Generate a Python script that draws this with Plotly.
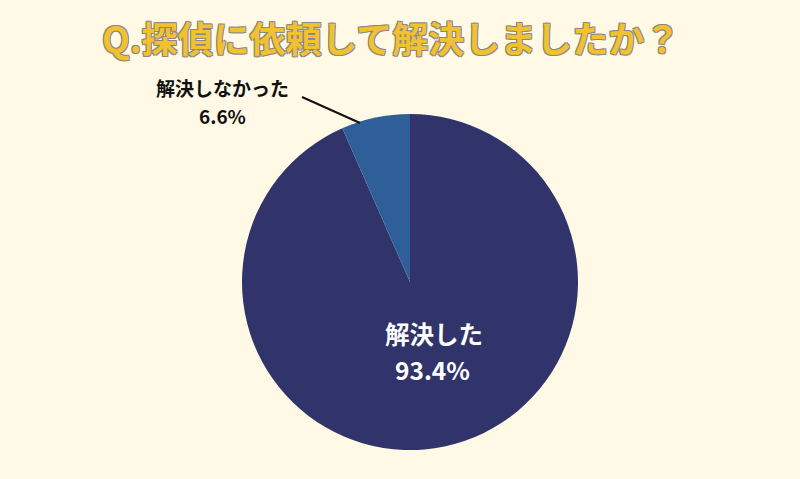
import plotly.graph_objects as go

labels = ["解決した", "解決しなかった"]
values = [93.4, 6.6]
colors = ["#30346A", "#2E5F99"]
title_text = "Q.探偵に依頼して解決しましたか？"

FONT = "Noto Sans CJK JP"

fig = go.Figure()
fig.add_trace(go.Pie(
    labels=labels,
    values=values,
    sort=False,
    direction="clockwise",
    rotation=0,
    marker=dict(colors=colors, line=dict(width=0)),
    textinfo="none",
    hoverinfo="skip",
    showlegend=False,
    domain=dict(x=[0.3025, 0.7225], y=[0.0605, 0.7620]),
))

def label(text, px, py, size, color):
    fig.add_annotation(text=text, x=px / 800, y=1 - py / 479, xref="paper", yref="paper",
                       xanchor="center", yanchor="middle", showarrow=False,
                       font=dict(family=FONT, size=size, color=color, weight="bold"))

# inside label for the large slice
label(labels[0], 434, 333, 24.5, "white")
label(f"{values[0]}%", 432, 369, 24.5, "white")

# outside label for the small slice
label(labels[1], 222, 88, 19, "#111111")
label(f"{values[1]}%", 222, 115.5, 19, "#111111")
fig.add_shape(type="line", xref="paper", yref="paper",
              x0=302 / 800, y0=1 - 97 / 479, x1=360 / 800, y1=1 - 123 / 479,
              line=dict(color="#111111", width=2))

fig.update_layout(
    width=800, height=479,
    paper_bgcolor="#FFF9E6",
    plot_bgcolor="#FFF9E6",
    margin=dict(l=0, r=0, t=0, b=0),
    title=dict(
        text=title_text,
        x=0.489, xanchor="center",
        y=1 - 40 / 479, yanchor="middle",
        font=dict(family=FONT, size=36, color="#F2C12E", weight="bold",
                  shadow="-1px -1px 0 #888, 1px -1px 0 #888, -1px 1px 0 #888, 1px 1px 0 #888"),
    ),
)

fig.write_html("out.html", config={"displayModeBar": False},
               post_script="document.body.style.margin='0';")
